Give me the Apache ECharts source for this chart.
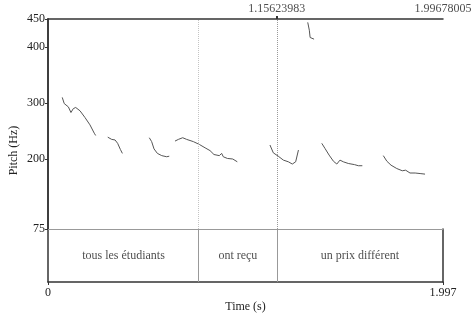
<!DOCTYPE html>
<html>
<head>
<meta charset="utf-8">
<script src="https://cdn.jsdelivr.net/npm/echarts@6/dist/echarts.min.js"></script>
<style>
  html, body { margin: 0; padding: 0; background: #fff; }
  #pitchChart { width: 472px; height: 315px; }
</style>
</head>
<body>
<div id="pitchChart"></div>
<script>
// total duration of the sound (s)
const duration = 1.99678005;
// textgrid boundaries and interval labels
const boundaries = [0.7634, 1.15623983];
const intervalLabels = ['tous les étudiants', 'ont reçu', 'un prix différent'];
// y axis ticks (Hz)
const pitchTicks = [75, 200, 300, 400, 450];
// time values shown at the top
const topMarks = [1.15623983, 1.99678005];

// pitch contour pieces, [time (s), pitch (Hz)]
const seg1 = [[0.072, 310], [0.082, 299], [0.103, 293], [0.116, 283], [0.128, 290], [0.140, 292], [0.162, 286], [0.187, 274], [0.212, 261], [0.234, 246], [0.241, 242]];
const seg2 = [[0.302, 239], [0.322, 235], [0.339, 234], [0.352, 228], [0.366, 217], [0.376, 210]];
const seg3 = [[0.512, 238], [0.524, 231], [0.536, 218], [0.553, 210], [0.575, 206], [0.600, 204], [0.613, 205]];
const seg4 = [[0.642, 232], [0.659, 235], [0.681, 238], [0.701, 235], [0.735, 231], [0.765, 226], [0.794, 220], [0.819, 215], [0.839, 208], [0.866, 206], [0.878, 210], [0.886, 204], [0.907, 201], [0.934, 200], [0.957, 195]];
const seg5 = [[1.122, 225], [1.139, 211], [1.164, 205], [1.190, 198], [1.215, 195], [1.235, 191], [1.252, 195], [1.266, 216]];
const seg6 = [[1.313, 444], [1.321, 430], [1.325, 417], [1.345, 414]];
const seg7 = [[1.384, 228], [1.400, 219], [1.421, 207], [1.443, 196], [1.460, 191], [1.476, 198], [1.493, 195], [1.518, 192], [1.549, 190], [1.569, 188], [1.589, 188]];
const seg8 = [[1.695, 206], [1.713, 196], [1.734, 189], [1.763, 183], [1.791, 179], [1.808, 180], [1.830, 175], [1.856, 175], [1.881, 174], [1.906, 173]];
const segments = [seg1, seg2, seg3, seg4, seg5, seg6, seg7, seg8];

const font = 'Liberation Serif';
const frame = { color: '#333', width: 1.5 };

let myChart = echarts.init(document.getElementById('pitchChart'));

// interval midpoints for the tier labels
const edges = [0].concat(boundaries, [duration]);
const tierData = intervalLabels.map((name, i) => ({
  name: name,
  value: [(edges[i] + edges[i + 1]) / 2, 0.5]
}));

const pitchSeries = segments.map((seg, i) => ({
  type: 'line',
  xAxisIndex: 0,
  yAxisIndex: 0,
  data: seg,
  symbol: 'none',
  silent: true,
  lineStyle: { color: '#555', width: 1 },
  markLine: i === 0 ? {
    silent: true,
    symbol: ['none', 'none'],
    label: { show: false },
    data: [
      { xAxis: boundaries[0], lineStyle: { color: '#c4c4c4', type: 'dotted', width: 1 } },
      { xAxis: topMarks[0], lineStyle: { color: '#999', type: 'dotted', width: 1 } }
    ]
  } : undefined
}));

myChart.setOption({
  animation: false,
  grid: [
    { left: 48, right: 29, top: 19, height: 210 },   // pitch
    { left: 48, right: 29, top: 229, height: 53 },   // tier
    { left: 48, right: 29, top: 19, height: 263 }    // holds the y name
  ],
  xAxis: [
    {
      // top frame
      type: 'value', gridIndex: 0, position: 'top', min: 0, max: duration,
      axisLine: { show: true, lineStyle: frame },
      axisTick: { show: true, customValues: [topMarks[0]], length: 3, lineStyle: { color: '#333', width: 2 } },
      axisLabel: { show: false },
      splitLine: { show: false }
    },
    {
      // 75 Hz line
      type: 'value', gridIndex: 0, position: 'bottom', min: 0, max: duration,
      axisLine: { show: true, lineStyle: { color: '#999', width: 1 } },
      axisTick: { show: false },
      axisLabel: { show: false },
      splitLine: { show: false }
    },
    {
      type: 'value', gridIndex: 1, position: 'bottom', min: 0, max: duration,
      name: 'Time (s)', nameLocation: 'middle', nameGap: 19,
      nameTextStyle: { color: '#222', fontFamily: font, fontSize: 12 },
      axisLine: { show: true, lineStyle: frame },
      axisTick: { show: true, customValues: [0, duration], length: 3, lineStyle: { color: '#333' } },
      axisLabel: {
        customValues: [0, duration], margin: 5,
        color: '#222', fontFamily: font, fontSize: 12,
        formatter: v => v === 0 ? '0' : v.toFixed(3)
      },
      splitLine: { show: false }
    },
    { type: 'value', gridIndex: 2, min: 0, max: 1, show: false }
  ],
  yAxis: [
    {
      type: 'value', gridIndex: 0, min: 75, max: 450,
      axisLine: { show: true, lineStyle: frame },
      axisTick: { show: true, customValues: pitchTicks, length: 3, lineStyle: { color: '#333' } },
      axisLabel: { customValues: pitchTicks, margin: 3, color: '#222', fontFamily: font, fontSize: 12 },
      splitLine: { show: false }
    },
    {
      type: 'value', gridIndex: 0, position: 'right', min: 75, max: 450,
      axisLine: { show: true, lineStyle: frame },
      axisTick: { show: false }, axisLabel: { show: false }, splitLine: { show: false }
    },
    {
      type: 'value', gridIndex: 1, min: 0, max: 1,
      axisLine: { show: true, lineStyle: frame },
      axisTick: { show: false }, axisLabel: { show: false }, splitLine: { show: false }
    },
    {
      type: 'value', gridIndex: 1, position: 'right', min: 0, max: 1,
      axisLine: { show: true, lineStyle: frame },
      axisTick: { show: false }, axisLabel: { show: false }, splitLine: { show: false }
    },
    {
      type: 'value', gridIndex: 2, min: 0, max: 1,
      name: 'Pitch (Hz)', nameLocation: 'middle', nameGap: 38, nameRotate: 90,
      nameTextStyle: { color: '#222', fontFamily: font, fontSize: 12 },
      axisLine: { show: false }, axisTick: { show: false }, axisLabel: { show: false }, splitLine: { show: false }
    }
  ],
  series: pitchSeries.concat([
    {
      // time readouts above the frame
      type: 'scatter',
      xAxisIndex: 0,
      yAxisIndex: 0,
      symbolSize: 0,
      silent: true,
      clip: false,
      data: topMarks.map(t => [t, 450]),
      label: {
        show: true, position: 'top', distance: 4,
        formatter: p => String(p.value[0]),
        color: '#222', fontFamily: font, fontSize: 12
      }
    },
    {
      type: 'scatter',
      xAxisIndex: 2,
      yAxisIndex: 2,
      symbolSize: 0,
      silent: true,
      data: tierData,
      label: { show: true, position: 'inside', formatter: '{b}', color: '#222', fontFamily: font, fontSize: 12 },
      markLine: {
        silent: true,
        symbol: ['none', 'none'],
        label: { show: false },
        lineStyle: { color: '#999', type: 'solid', width: 1 },
        data: boundaries.map(b => ({ xAxis: b }))
      }
    }
  ])
});
</script>
</body>
</html>
